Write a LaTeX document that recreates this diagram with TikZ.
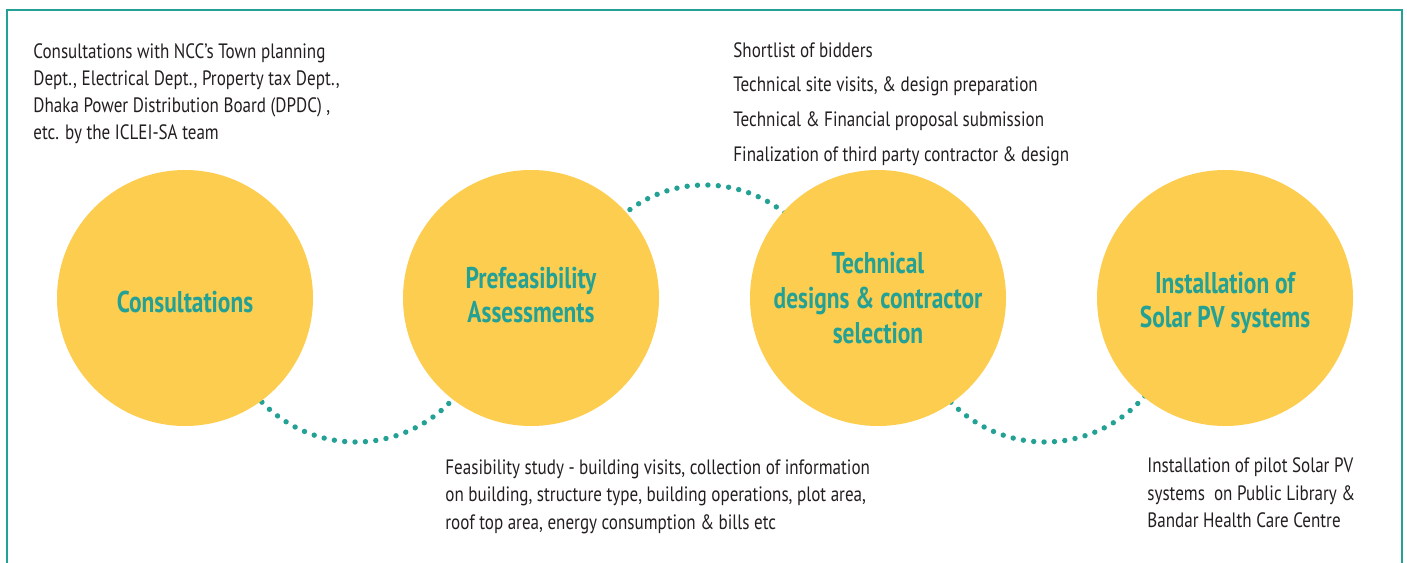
\documentclass[tikz,border=0pt]{standalone}
\usepackage{fontspec}
\setmainfont{PT Sans}[FakeStretch=0.82]
\newfontfamily\titlefont{PT Sans}[FakeStretch=0.78]
\definecolor{teal0}{HTML}{24A195}
\definecolor{sun}{HTML}{FDCD50}
\definecolor{ink}{HTML}{231F20}
\begin{document}
\begin{tikzpicture}[x=0.5pt,y=-0.5pt,
  stage/.style={circle, fill=sun, minimum size=128pt, inner sep=0pt},
  title/.style={inner sep=0pt, text=teal0, align=center,
    font=\titlefont\fontsize{15}{17.3}\selectfont\bfseries},
  note/.style={anchor=north west, inner sep=0pt, text=ink, align=left,
    font=\fontsize{10.4}{13.6}\selectfont},
  dotline/.style={draw=teal0, line width=2.7pt, line cap=round, dash pattern=on 0pt off 5.2pt}]
\useasboundingbox (0,0) rectangle (1407,562);
\begin{scope}
  \clip (0,0) rectangle (1407,562);
  \draw[teal0, line width=1.3pt] (7,10) rectangle (1402,620);
\end{scope}
\coordinate (m12) at (356,311);
\coordinate (m23) at (705,312);
\coordinate (m34) at (1045,311);
\draw[dotline] (m12) ++(145:131) arc[start angle=145, end angle=35, radius=131];
\draw[dotline] (m23) ++(-145:127) arc[start angle=-145, end angle=-35, radius=127];
\draw[dotline] (m34) ++(145:131) arc[start angle=145, end angle=35, radius=131];
\node[stage] (c1) at (185,298) {};
\node[stage] (c2) at (531,298) {};
\node[stage] (c3) at (878,298) {};
\node[stage] (c4) at (1225,298) {};
\node[title] (l1) at (185,302) {Consultations};
\node[title] (l2) at (531,295) {Prefeasibility\\Assessments};
\node[title] (l3) at (878,298) {Technical\\designs \& contractor\\selection};
\node[title] (l4) at (1225,303) {Installation of\\Solar PV systems};
\node[note] (t1) at (33,43) {Consultations with NCC’s Town planning\\Dept., Electrical Dept., Property tax Dept.,\\Dhaka Power Distribution Board (DPDC) ,\\etc. by the ICLEI-SA team};
\node[note, font=\fontsize{10.4}{17.3}\selectfont] (t3) at (733,42) {Shortlist of bidders\\Technical site visits, \& design preparation\\Technical \& Financial proposal submission\\Finalization of third party contractor \& design};
\node[note] (t2) at (445,459.5) {Feasibility study - building visits, collection of information\\on building, structure type, building operations, plot area,\\roof top area, energy consumption \& bills etc};
\node[note, font=\fontsize{10.4}{13.9}\selectfont] (t4) at (1147,457) {Installation of pilot Solar PV\\systems\ \ on Public Library \&\\Bandar Health Care Centre};
\end{tikzpicture}
\end{document}
